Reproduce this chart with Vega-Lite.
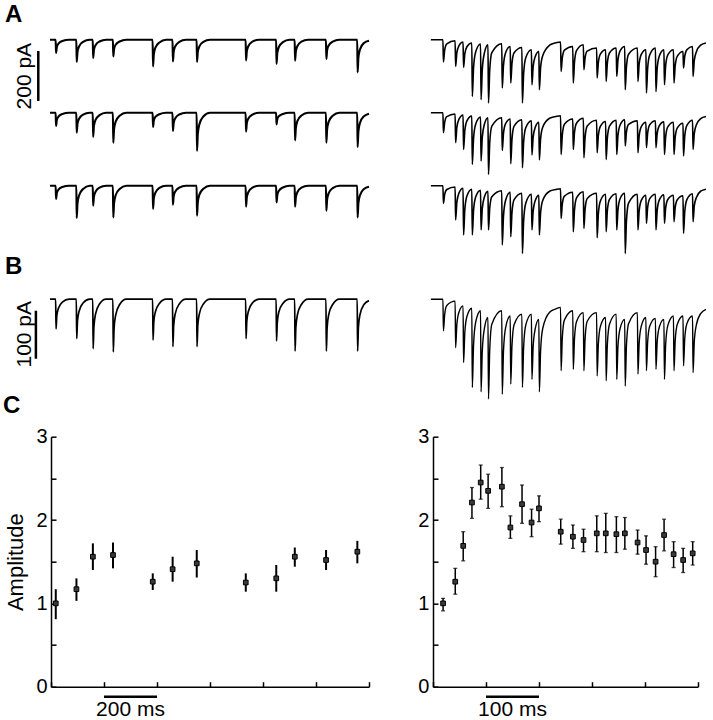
{
"$schema": "https://vega.github.io/schema/vega-lite/v6.json",
"background": "white",
"padding": {"left": 3, "top": 2.7, "right": 0, "bottom": 0},
"datasets": {
"a1l": [{"t":-4,"i":0},{"t":17.5,"i":0},{"t":19,"i":-53},{"t":22,"i":-29},{"t":28,"i":-16},{"t":43,"i":-5},{"t":68,"i":0},
{"t":95.5,"i":0},{"t":97,"i":-89},{"t":100,"i":-49},{"t":106,"i":-27},{"t":121,"i":-9},{"t":146,"i":0},
{"t":157.5,"i":0},{"t":159,"i":-73},{"t":162,"i":-40},{"t":168,"i":-22},{"t":183,"i":-7},{"t":208,"i":0},
{"t":233.5,"i":0},{"t":235,"i":-67},{"t":238,"i":-37},{"t":244,"i":-20},{"t":259,"i":-7},{"t":284,"i":0},
{"t":383.5,"i":0},{"t":385,"i":-107},{"t":388,"i":-59},{"t":394,"i":-32},{"t":409,"i":-11},{"t":434,"i":0},
{"t":458.5,"i":0},{"t":460,"i":-87},{"t":463,"i":-48},{"t":469,"i":-26},{"t":484,"i":-9},{"t":509,"i":0},
{"t":549.5,"i":0},{"t":551,"i":-89},{"t":554,"i":-49},{"t":560,"i":-27},{"t":575,"i":-9},{"t":600,"i":0},
{"t":734.5,"i":0},{"t":736,"i":-83},{"t":739,"i":-46},{"t":745,"i":-25},{"t":760,"i":-8},{"t":785,"i":0},
{"t":849.5,"i":0},{"t":851,"i":-97},{"t":854,"i":-53},{"t":860,"i":-29},{"t":875,"i":-10},{"t":900,"i":0},
{"t":919.5,"i":0},{"t":921,"i":-84},{"t":924,"i":-46},{"t":930,"i":-25},{"t":945,"i":-8},{"t":970,"i":0},
{"t":1037.5,"i":0},{"t":1039,"i":-77},{"t":1042,"i":-42},{"t":1048,"i":-23},{"t":1063,"i":-8},{"t":1088,"i":0},
{"t":1155.5,"i":0},{"t":1157,"i":-131},{"t":1160,"i":-72},{"t":1166,"i":-39},{"t":1181,"i":-13},{"t":1200,"i":-4}],
"a2l": [{"t":-4,"i":0},{"t":17.5,"i":0},{"t":19,"i":-53},{"t":22,"i":-29},{"t":28,"i":-16},{"t":43,"i":-5},{"t":68,"i":0},
{"t":95.5,"i":0},{"t":97,"i":-80},{"t":100,"i":-44},{"t":106,"i":-24},{"t":121,"i":-8},{"t":146,"i":0},
{"t":157.5,"i":0},{"t":159,"i":-97},{"t":162,"i":-53},{"t":168,"i":-29},{"t":183,"i":-10},{"t":208,"i":0},
{"t":233.5,"i":0},{"t":235,"i":-120},{"t":238,"i":-66},{"t":244,"i":-36},{"t":259,"i":-12},{"t":284,"i":0},
{"t":383.5,"i":0},{"t":385,"i":-57},{"t":388,"i":-31},{"t":394,"i":-17},{"t":409,"i":-6},{"t":434,"i":0},
{"t":458.5,"i":0},{"t":460,"i":-73},{"t":463,"i":-40},{"t":469,"i":-22},{"t":484,"i":-7},{"t":509,"i":0},
{"t":549.5,"i":0},{"t":551,"i":-153},{"t":554,"i":-84},{"t":560,"i":-46},{"t":575,"i":-15},{"t":600,"i":0},
{"t":734.5,"i":0},{"t":736,"i":-76},{"t":739,"i":-42},{"t":745,"i":-23},{"t":760,"i":-8},{"t":785,"i":0},
{"t":849.5,"i":0},{"t":851,"i":-47},{"t":854,"i":-26},{"t":860,"i":-14},{"t":875,"i":-5},{"t":900,"i":0},
{"t":919.5,"i":0},{"t":921,"i":-111},{"t":924,"i":-61},{"t":930,"i":-33},{"t":945,"i":-11},{"t":970,"i":0},
{"t":1037.5,"i":0},{"t":1039,"i":-120},{"t":1042,"i":-66},{"t":1048,"i":-36},{"t":1063,"i":-12},{"t":1088,"i":0},
{"t":1155.5,"i":0},{"t":1157,"i":-137},{"t":1160,"i":-75},{"t":1166,"i":-41},{"t":1181,"i":-14},{"t":1200,"i":-4}],
"a3l": [{"t":-4,"i":0},{"t":17.5,"i":0},{"t":19,"i":-53},{"t":22,"i":-29},{"t":28,"i":-16},{"t":43,"i":-5},{"t":68,"i":0},
{"t":95.5,"i":0},{"t":97,"i":-129},{"t":100,"i":-71},{"t":106,"i":-39},{"t":121,"i":-13},{"t":146,"i":0},
{"t":157.5,"i":0},{"t":159,"i":-80},{"t":162,"i":-44},{"t":168,"i":-24},{"t":183,"i":-8},{"t":208,"i":0},
{"t":233.5,"i":0},{"t":235,"i":-127},{"t":238,"i":-70},{"t":244,"i":-38},{"t":259,"i":-13},{"t":284,"i":0},
{"t":383.5,"i":0},{"t":385,"i":-93},{"t":388,"i":-51},{"t":394,"i":-28},{"t":409,"i":-9},{"t":434,"i":0},
{"t":458.5,"i":0},{"t":460,"i":-76},{"t":463,"i":-42},{"t":469,"i":-23},{"t":484,"i":-8},{"t":509,"i":0},
{"t":549.5,"i":0},{"t":551,"i":-120},{"t":554,"i":-66},{"t":560,"i":-36},{"t":575,"i":-12},{"t":600,"i":0},
{"t":734.5,"i":0},{"t":736,"i":-84},{"t":739,"i":-46},{"t":745,"i":-25},{"t":760,"i":-8},{"t":785,"i":0},
{"t":849.5,"i":0},{"t":851,"i":-67},{"t":854,"i":-37},{"t":860,"i":-20},{"t":875,"i":-7},{"t":900,"i":0},
{"t":919.5,"i":0},{"t":921,"i":-84},{"t":924,"i":-46},{"t":930,"i":-25},{"t":945,"i":-8},{"t":970,"i":0},
{"t":1037.5,"i":0},{"t":1039,"i":-100},{"t":1042,"i":-55},{"t":1048,"i":-30},{"t":1063,"i":-10},{"t":1088,"i":0},
{"t":1155.5,"i":0},{"t":1157,"i":-127},{"t":1160,"i":-70},{"t":1166,"i":-38},{"t":1181,"i":-13},{"t":1200,"i":-4}],
"bl": [{"t":-4,"i":0},{"t":17.5,"i":0},{"t":19,"i":-62},{"t":22,"i":-34},{"t":28,"i":-19},{"t":43,"i":-6},{"t":68,"i":0},
{"t":95.5,"i":0},{"t":97,"i":-82},{"t":100,"i":-45},{"t":106,"i":-25},{"t":121,"i":-8},{"t":146,"i":0},
{"t":157.5,"i":0},{"t":159,"i":-103},{"t":162,"i":-57},{"t":168,"i":-31},{"t":183,"i":-10},{"t":208,"i":0},
{"t":233.5,"i":0},{"t":235,"i":-110},{"t":238,"i":-61},{"t":244,"i":-33},{"t":259,"i":-11},{"t":284,"i":0},
{"t":383.5,"i":0},{"t":385,"i":-85},{"t":388,"i":-47},{"t":394,"i":-26},{"t":409,"i":-9},{"t":434,"i":0},
{"t":458.5,"i":0},{"t":460,"i":-99},{"t":463,"i":-54},{"t":469,"i":-30},{"t":484,"i":-10},{"t":509,"i":0},
{"t":549.5,"i":0},{"t":551,"i":-99},{"t":554,"i":-54},{"t":560,"i":-30},{"t":575,"i":-10},{"t":600,"i":0},
{"t":734.5,"i":0},{"t":736,"i":-82},{"t":739,"i":-45},{"t":745,"i":-25},{"t":760,"i":-8},{"t":785,"i":0},
{"t":849.5,"i":0},{"t":851,"i":-87},{"t":854,"i":-48},{"t":860,"i":-26},{"t":875,"i":-9},{"t":900,"i":0},
{"t":919.5,"i":0},{"t":921,"i":-108},{"t":924,"i":-59},{"t":930,"i":-32},{"t":945,"i":-11},{"t":970,"i":0},
{"t":1037.5,"i":0},{"t":1039,"i":-108},{"t":1042,"i":-59},{"t":1048,"i":-32},{"t":1063,"i":-11},{"t":1088,"i":0},
{"t":1155.5,"i":0},{"t":1157,"i":-108},{"t":1160,"i":-59},{"t":1166,"i":-32},{"t":1181,"i":-11},{"t":1200,"i":-3}],
"a1r": [{"t":-4,"i":0},
{"t":18.7,"i":0},{"t":19.7,"i":-89},{"t":22,"i":-42},{"t":26,"i":-17},
{"t":41.7,"i":-4},{"t":42.7,"i":-107},{"t":45,"i":-53},{"t":49,"i":-24},
{"t":56.7,"i":-9},{"t":57.7,"i":-111},{"t":60,"i":-57},{"t":64,"i":-28},
{"t":73.2,"i":-13},{"t":74.2,"i":-227},{"t":76.5,"i":-112},{"t":80.5,"i":-49},
{"t":89.7,"i":-17},{"t":90.7,"i":-240},{"t":93,"i":-119},{"t":97,"i":-53},
{"t":103.7,"i":-20},{"t":104.7,"i":-253},{"t":107,"i":-123},{"t":111,"i":-52},
{"t":129.7,"i":-16},{"t":130.7,"i":-193},{"t":133,"i":-102},{"t":137,"i":-52},
{"t":145.7,"i":-27},{"t":146.7,"i":-173},{"t":149,"i":-95},{"t":153,"i":-52},
{"t":167.7,"i":-31},{"t":168.7,"i":-253},{"t":171,"i":-136},{"t":175,"i":-72},
{"t":185.7,"i":-40},{"t":186.7,"i":-180},{"t":189,"i":-107},{"t":193,"i":-67},
{"t":199.7,"i":-47},{"t":200.7,"i":-200},{"t":203,"i":-112},{"t":207,"i":-64},{"t":220,"i":-22},{"t":232,"i":-12},
{"t":240.7,"i":-9},{"t":241.7,"i":-127},{"t":244,"i":-72},{"t":248,"i":-42},
{"t":263.7,"i":-27},{"t":264.7,"i":-173},{"t":267,"i":-89},{"t":271,"i":-43},
{"t":283.7,"i":-20},{"t":284.7,"i":-120},{"t":287,"i":-72},{"t":291,"i":-46},
{"t":308.7,"i":-33},{"t":309.7,"i":-153},{"t":312,"i":-91},{"t":316,"i":-57},
{"t":325.7,"i":-40},{"t":326.7,"i":-167},{"t":329,"i":-93},{"t":333,"i":-53},
{"t":345.7,"i":-33},{"t":346.7,"i":-147},{"t":349,"i":-81},{"t":353,"i":-45},
{"t":361.7,"i":-27},{"t":362.7,"i":-200},{"t":365,"i":-108},{"t":369,"i":-58},
{"t":385.7,"i":-33},{"t":386.7,"i":-167},{"t":389,"i":-97},{"t":393,"i":-59},
{"t":401.7,"i":-40},{"t":402.7,"i":-213},{"t":405,"i":-114},{"t":409,"i":-60},
{"t":419.7,"i":-33},{"t":420.7,"i":-207},{"t":423,"i":-115},{"t":427,"i":-65},
{"t":435.7,"i":-40},{"t":436.7,"i":-180},{"t":439,"i":-103},{"t":443,"i":-61},
{"t":453.7,"i":-40},{"t":454.7,"i":-173},{"t":457,"i":-104},{"t":461,"i":-66},
{"t":471.7,"i":-47},{"t":472.7,"i":-113},{"t":475,"i":-66},{"t":479,"i":-40},
{"t":489.7,"i":-27},{"t":490.7,"i":-147},{"t":493,"i":-83},{"t":497,"i":-48},{"t":505,"i":-22},{"t":515,"i":-13}],
"a2r": [{"t":-4,"i":0},
{"t":18.7,"i":0},{"t":19.7,"i":-80},{"t":22,"i":-39},{"t":26,"i":-16},
{"t":41.7,"i":-5},{"t":42.7,"i":-120},{"t":45,"i":-59},{"t":49,"i":-26},
{"t":56.7,"i":-9},{"t":57.7,"i":-147},{"t":60,"i":-73},{"t":64,"i":-33},
{"t":73.2,"i":-13},{"t":74.2,"i":-207},{"t":76.5,"i":-103},{"t":80.5,"i":-46},
{"t":89.7,"i":-17},{"t":90.7,"i":-193},{"t":93,"i":-98},{"t":97,"i":-46},
{"t":103.7,"i":-20},{"t":104.7,"i":-247},{"t":107,"i":-122},{"t":111,"i":-54},
{"t":129.7,"i":-20},{"t":130.7,"i":-151},{"t":133,"i":-82},{"t":137,"i":-44},
{"t":145.7,"i":-25},{"t":146.7,"i":-204},{"t":149,"i":-107},{"t":153,"i":-54},
{"t":167.7,"i":-28},{"t":168.7,"i":-220},{"t":171,"i":-117},{"t":175,"i":-60},
{"t":185.7,"i":-32},{"t":186.7,"i":-169},{"t":189,"i":-97},{"t":193,"i":-58},
{"t":199.7,"i":-38},{"t":200.7,"i":-189},{"t":203,"i":-104},{"t":207,"i":-58},{"t":220,"i":-22},{"t":232,"i":-15},
{"t":240.7,"i":-12},{"t":241.7,"i":-167},{"t":244,"i":-89},{"t":248,"i":-46},
{"t":263.7,"i":-25},{"t":264.7,"i":-147},{"t":267,"i":-78},{"t":271,"i":-41},
{"t":283.7,"i":-22},{"t":284.7,"i":-180},{"t":287,"i":-98},{"t":291,"i":-53},
{"t":308.7,"i":-30},{"t":309.7,"i":-160},{"t":312,"i":-91},{"t":316,"i":-54},
{"t":325.7,"i":-35},{"t":326.7,"i":-187},{"t":329,"i":-101},{"t":333,"i":-54},
{"t":345.7,"i":-30},{"t":346.7,"i":-167},{"t":349,"i":-91},{"t":353,"i":-49},
{"t":361.7,"i":-28},{"t":362.7,"i":-133},{"t":365,"i":-77},{"t":369,"i":-47},
{"t":385.7,"i":-32},{"t":386.7,"i":-160},{"t":389,"i":-93},{"t":393,"i":-56},
{"t":401.7,"i":-38},{"t":402.7,"i":-140},{"t":405,"i":-81},{"t":409,"i":-48},
{"t":419.7,"i":-32},{"t":420.7,"i":-140},{"t":423,"i":-83},{"t":427,"i":-52},
{"t":435.7,"i":-36},{"t":436.7,"i":-167},{"t":439,"i":-96},{"t":443,"i":-57},
{"t":453.7,"i":-38},{"t":454.7,"i":-167},{"t":457,"i":-98},{"t":461,"i":-61},
{"t":471.7,"i":-42},{"t":472.7,"i":-173},{"t":475,"i":-94},{"t":479,"i":-51},
{"t":489.7,"i":-30},{"t":490.7,"i":-147},{"t":493,"i":-83},{"t":497,"i":-48},{"t":505,"i":-24},{"t":515,"i":-15}],
"a3r": [{"t":-4,"i":0},
{"t":18.7,"i":0},{"t":19.7,"i":-71},{"t":22,"i":-35},{"t":26,"i":-15},
{"t":41.7,"i":-5},{"t":42.7,"i":-137},{"t":45,"i":-67},{"t":49,"i":-29},
{"t":56.7,"i":-10},{"t":57.7,"i":-197},{"t":60,"i":-96},{"t":64,"i":-41},
{"t":73.2,"i":-14},{"t":74.2,"i":-197},{"t":76.5,"i":-99},{"t":80.5,"i":-45},
{"t":89.7,"i":-18},{"t":90.7,"i":-177},{"t":93,"i":-92},{"t":97,"i":-45},
{"t":103.7,"i":-22},{"t":104.7,"i":-177},{"t":107,"i":-91},{"t":111,"i":-44},
{"t":129.7,"i":-20},{"t":130.7,"i":-237},{"t":133,"i":-121},{"t":137,"i":-58},
{"t":145.7,"i":-26},{"t":146.7,"i":-204},{"t":149,"i":-108},{"t":153,"i":-56},
{"t":167.7,"i":-30},{"t":168.7,"i":-271},{"t":171,"i":-141},{"t":175,"i":-70},
{"t":185.7,"i":-34},{"t":186.7,"i":-177},{"t":189,"i":-101},{"t":193,"i":-59},
{"t":199.7,"i":-38},{"t":200.7,"i":-197},{"t":203,"i":-108},{"t":207,"i":-59},{"t":220,"i":-22},{"t":232,"i":-15},
{"t":240.7,"i":-12},{"t":241.7,"i":-131},{"t":244,"i":-73},{"t":248,"i":-42},
{"t":263.7,"i":-26},{"t":264.7,"i":-184},{"t":267,"i":-96},{"t":271,"i":-48},
{"t":283.7,"i":-24},{"t":284.7,"i":-171},{"t":287,"i":-93},{"t":291,"i":-51},
{"t":308.7,"i":-30},{"t":309.7,"i":-208},{"t":312,"i":-112},{"t":316,"i":-60},
{"t":325.7,"i":-34},{"t":326.7,"i":-184},{"t":329,"i":-100},{"t":333,"i":-55},
{"t":345.7,"i":-32},{"t":346.7,"i":-177},{"t":349,"i":-96},{"t":353,"i":-52},
{"t":361.7,"i":-30},{"t":362.7,"i":-271},{"t":365,"i":-141},{"t":369,"i":-70},
{"t":385.7,"i":-34},{"t":386.7,"i":-177},{"t":389,"i":-101},{"t":393,"i":-59},
{"t":401.7,"i":-38},{"t":402.7,"i":-151},{"t":405,"i":-87},{"t":409,"i":-52},
{"t":419.7,"i":-34},{"t":420.7,"i":-177},{"t":423,"i":-99},{"t":427,"i":-57},
{"t":435.7,"i":-36},{"t":436.7,"i":-151},{"t":439,"i":-89},{"t":443,"i":-55},
{"t":453.7,"i":-38},{"t":454.7,"i":-144},{"t":457,"i":-87},{"t":461,"i":-56},
{"t":471.7,"i":-40},{"t":472.7,"i":-191},{"t":475,"i":-104},{"t":479,"i":-56},
{"t":489.7,"i":-32},{"t":490.7,"i":-144},{"t":493,"i":-81},{"t":497,"i":-47},{"t":505,"i":-22},{"t":515,"i":-14}],
"br": [{"t":-4,"i":0},
{"t":18.7,"i":0},{"t":19.7,"i":-66},{"t":22,"i":-32},{"t":26,"i":-13},
{"t":41.7,"i":-4},{"t":42.7,"i":-101},{"t":45,"i":-53},{"t":49,"i":-27},
{"t":56.7,"i":-14},{"t":57.7,"i":-132},{"t":60,"i":-70},{"t":64,"i":-36},
{"t":73.2,"i":-19},{"t":74.2,"i":-184},{"t":76.5,"i":-96},{"t":80.5,"i":-48},
{"t":89.7,"i":-24},{"t":90.7,"i":-193},{"t":93,"i":-108},{"t":97,"i":-61},
{"t":103.7,"i":-38},{"t":104.7,"i":-208},{"t":107,"i":-107},{"t":111,"i":-52},
{"t":129.7,"i":-24},{"t":130.7,"i":-198},{"t":133,"i":-108},{"t":137,"i":-59},
{"t":145.7,"i":-35},{"t":146.7,"i":-177},{"t":149,"i":-97},{"t":153,"i":-53},
{"t":167.7,"i":-31},{"t":168.7,"i":-184},{"t":171,"i":-100},{"t":175,"i":-54},
{"t":185.7,"i":-31},{"t":186.7,"i":-167},{"t":189,"i":-98},{"t":193,"i":-61},
{"t":199.7,"i":-42},{"t":200.7,"i":-193},{"t":203,"i":-108},{"t":207,"i":-61},{"t":220,"i":-27},{"t":232,"i":-20},
{"t":240.7,"i":-17},{"t":241.7,"i":-149},{"t":244,"i":-80},{"t":248,"i":-43},
{"t":263.7,"i":-24},{"t":264.7,"i":-146},{"t":267,"i":-81},{"t":271,"i":-46},
{"t":283.7,"i":-28},{"t":284.7,"i":-149},{"t":287,"i":-82},{"t":291,"i":-46},
{"t":308.7,"i":-28},{"t":309.7,"i":-160},{"t":312,"i":-93},{"t":316,"i":-56},
{"t":325.7,"i":-38},{"t":326.7,"i":-170},{"t":329,"i":-94},{"t":333,"i":-52},
{"t":345.7,"i":-31},{"t":346.7,"i":-167},{"t":349,"i":-98},{"t":353,"i":-61},
{"t":361.7,"i":-42},{"t":362.7,"i":-181},{"t":365,"i":-97},{"t":369,"i":-51},
{"t":385.7,"i":-28},{"t":386.7,"i":-156},{"t":389,"i":-91},{"t":393,"i":-56},
{"t":401.7,"i":-38},{"t":402.7,"i":-149},{"t":405,"i":-89},{"t":409,"i":-56},
{"t":419.7,"i":-40},{"t":420.7,"i":-146},{"t":423,"i":-89},{"t":427,"i":-58},
{"t":435.7,"i":-42},{"t":436.7,"i":-167},{"t":439,"i":-94},{"t":443,"i":-55},
{"t":453.7,"i":-35},{"t":454.7,"i":-149},{"t":457,"i":-86},{"t":461,"i":-52},
{"t":471.7,"i":-35},{"t":472.7,"i":-139},{"t":475,"i":-82},{"t":479,"i":-51},
{"t":489.7,"i":-35},{"t":490.7,"i":-153},{"t":493,"i":-88},{"t":497,"i":-53},{"t":505,"i":-30},{"t":515,"i":-21}],
"cl": [{"t":18,"a":1.0,"lo":0.81,"hi":1.17},{"t":96,"a":1.17,"lo":1.03,"hi":1.3},{"t":158,"a":1.56,"lo":1.4,"hi":1.72},{"t":234,"a":1.58,"lo":1.42,"hi":1.73},{"t":384,"a":1.26,"lo":1.16,"hi":1.36},{"t":459,"a":1.41,"lo":1.26,"hi":1.56},{"t":550,"a":1.48,"lo":1.31,"hi":1.64},{"t":735,"a":1.25,"lo":1.14,"hi":1.36},{"t":850,"a":1.3,"lo":1.14,"hi":1.46},{"t":920,"a":1.56,"lo":1.44,"hi":1.67},{"t":1038,"a":1.52,"lo":1.4,"hi":1.64},{"t":1156,"a":1.62,"lo":1.48,"hi":1.75}],
"cr": [{"t":19,"a":1.0,"lo":0.91,"hi":1.06},{"t":42,"a":1.26,"lo":1.11,"hi":1.42},{"t":57,"a":1.69,"lo":1.51,"hi":1.86},{"t":73.5,"a":2.21,"lo":2.02,"hi":2.39},{"t":90,"a":2.45,"lo":2.25,"hi":2.66},{"t":104,"a":2.35,"lo":2.14,"hi":2.55},{"t":130,"a":2.4,"lo":2.16,"hi":2.63},{"t":146,"a":1.91,"lo":1.78,"hi":2.05},{"t":168,"a":2.19,"lo":1.96,"hi":2.42},{"t":186,"a":1.97,"lo":1.8,"hi":2.13},{"t":200,"a":2.14,"lo":1.98,"hi":2.29},{"t":241,"a":1.86,"lo":1.71,"hi":2.01},{"t":264,"a":1.8,"lo":1.66,"hi":1.94},{"t":284,"a":1.76,"lo":1.62,"hi":1.89},{"t":309,"a":1.84,"lo":1.62,"hi":2.05},{"t":326,"a":1.84,"lo":1.61,"hi":2.08},{"t":346,"a":1.83,"lo":1.61,"hi":2.04},{"t":362,"a":1.84,"lo":1.65,"hi":2.03},{"t":386,"a":1.73,"lo":1.59,"hi":1.88},{"t":402,"a":1.64,"lo":1.47,"hi":1.81},{"t":420,"a":1.5,"lo":1.32,"hi":1.68},{"t":436,"a":1.82,"lo":1.63,"hi":2.01},{"t":454,"a":1.59,"lo":1.43,"hi":1.74},{"t":472,"a":1.52,"lo":1.37,"hi":1.66},{"t":490,"a":1.6,"lo":1.46,"hi":1.74}]
},
"columns": 2,
"spacing": {"row": 1, "column": 64},
"bounds": "flush",
"concat": [
  {"width": 318, "height": 72,
   "layer": [
    {"data": {"name": "a1l"}, "mark": {"type": "line", "interpolate": "monotone", "color": "black", "strokeWidth": 2.1, "clip": false},
     "encoding": {"x": {"field": "t", "type": "quantitative", "scale": {"domain": [0, 1200], "nice": false}, "axis": null},
                  "y": {"field": "i", "type": "quantitative", "scale": {"domain": [-268, 20], "nice": false}, "axis": null}}},
    {"data": {"values": [{}]}, "mark": {"type": "rule", "color": "black", "strokeWidth": 2.5},
     "encoding": {"x": {"datum": -48}, "y": {"datum": -45}, "y2": {"datum": -245}}},
    {"data": {"values": [{}]}, "mark": {"type": "text", "angle": 270, "fontSize": 21, "align": "center", "baseline": "middle", "color": "black"},
     "encoding": {"x": {"datum": -98}, "y": {"datum": -146}, "text": {"value": "200 pA"}}},
    {"data": {"values": [{}]}, "mark": {"type": "text", "fontSize": 24, "fontWeight": "bold", "align": "left", "baseline": "alphabetic", "color": "black"},
     "encoding": {"x": {"datum": -173.6}, "y": {"datum": 71.2}, "text": {"value": "A"}}}
   ]},
  {"width": 265, "height": 72, "data": {"name": "a1r"},
   "mark": {"type": "line", "interpolate": "monotone", "color": "black", "strokeWidth": 1.6, "clip": false},
   "encoding": {"x": {"field": "t", "type": "quantitative", "scale": {"domain": [0, 500], "nice": false}, "axis": null},
                "y": {"field": "i", "type": "quantitative", "scale": {"domain": [-268, 20], "nice": false}, "axis": null}}},
  {"width": 318, "height": 72, "data": {"name": "a2l"},
   "mark": {"type": "line", "interpolate": "monotone", "color": "black", "strokeWidth": 2.1, "clip": false},
   "encoding": {"x": {"field": "t", "type": "quantitative", "scale": {"domain": [0, 1200], "nice": false}, "axis": null},
                "y": {"field": "i", "type": "quantitative", "scale": {"domain": [-268, 20], "nice": false}, "axis": null}}},
  {"width": 265, "height": 72, "data": {"name": "a2r"},
   "mark": {"type": "line", "interpolate": "monotone", "color": "black", "strokeWidth": 1.6, "clip": false},
   "encoding": {"x": {"field": "t", "type": "quantitative", "scale": {"domain": [0, 500], "nice": false}, "axis": null},
                "y": {"field": "i", "type": "quantitative", "scale": {"domain": [-268, 20], "nice": false}, "axis": null}}},
  {"width": 318, "height": 72, "data": {"name": "a3l"},
   "mark": {"type": "line", "interpolate": "monotone", "color": "black", "strokeWidth": 2.1, "clip": false},
   "encoding": {"x": {"field": "t", "type": "quantitative", "scale": {"domain": [0, 1200], "nice": false}, "axis": null},
                "y": {"field": "i", "type": "quantitative", "scale": {"domain": [-268, 20], "nice": false}, "axis": null}}},
  {"width": 265, "height": 72, "data": {"name": "a3r"},
   "mark": {"type": "line", "interpolate": "monotone", "color": "black", "strokeWidth": 1.6, "clip": false},
   "encoding": {"x": {"field": "t", "type": "quantitative", "scale": {"domain": [0, 500], "nice": false}, "axis": null},
                "y": {"field": "i", "type": "quantitative", "scale": {"domain": [-268, 20], "nice": false}, "axis": null}}},
  {"width": 318, "height": 181.5,
   "layer": [
    {"data": {"name": "bl"}, "mark": {"type": "line", "interpolate": "monotone", "color": "black", "strokeWidth": 1.7, "clip": false},
     "encoding": {"x": {"field": "t", "type": "quantitative", "scale": {"domain": [0, 1200], "nice": false}, "axis": null},
                  "y": {"field": "i", "type": "quantitative", "scale": {"domain": [-283.3, 94.8], "nice": false}, "axis": null}}},
    {"data": {"values": [{}]}, "mark": {"type": "rule", "color": "black", "strokeWidth": 2.5},
     "encoding": {"x": {"datum": -57}, "y": {"datum": -24}, "y2": {"datum": -124}}},
    {"data": {"values": [{}]}, "mark": {"type": "text", "angle": 270, "fontSize": 21, "align": "center", "baseline": "middle", "color": "black"},
     "encoding": {"x": {"datum": -98}, "y": {"datum": -73}, "text": {"value": "100 pA"}}},
    {"data": {"values": [{}]}, "mark": {"type": "text", "fontSize": 24, "fontWeight": "bold", "align": "left", "baseline": "alphabetic", "color": "black"},
     "encoding": {"x": {"datum": -173.6}, "y": {"datum": 52}, "text": {"value": "B"}}}
   ]},
  {"width": 265, "height": 181.5, "data": {"name": "br"},
   "mark": {"type": "line", "interpolate": "monotone", "color": "black", "strokeWidth": 1.4, "clip": false},
   "encoding": {"x": {"field": "t", "type": "quantitative", "scale": {"domain": [0, 500], "nice": false}, "axis": null},
                "y": {"field": "i", "type": "quantitative", "scale": {"domain": [-283.3, 94.8], "nice": false}, "axis": null}}},
  {"width": 318, "height": 250, "data": {"name": "cl"},
   "layer": [
    {"mark": {"type": "rule", "color": "black", "strokeWidth": 2},
     "encoding": {"x": {"field": "t", "type": "quantitative", "scale": {"domain": [0, 1200], "nice": false},
                        "axis": {"values": [0, 200, 400, 600, 800, 1000, 1200], "labels": false, "tickSize": -5, "title": null}},
                  "y": {"field": "lo", "type": "quantitative", "title": "Amplitude", "scale": {"domain": [0, 3], "nice": false},
                        "axis": {"values": [0, 0.5, 1, 1.5, 2, 2.5, 3], "tickSize": -5, "labelPadding": 9,
                                 "labelExpr": "datum.value % 1 === 0 ? '' + datum.value : ''"}},
                  "y2": {"field": "hi"}}},
    {"mark": {"type": "point", "shape": "square", "filled": true, "size": 22, "fill": "#3a3a3a", "stroke": "black", "strokeWidth": 1, "opacity": 1},
     "encoding": {"x": {"field": "t", "type": "quantitative"}, "y": {"field": "a", "type": "quantitative", "title": "Amplitude"}}},
    {"data": {"values": [{}]}, "mark": {"type": "rule", "color": "black", "strokeWidth": 2.5},
     "encoding": {"x": {"datum": 200}, "x2": {"datum": 400}, "y": {"datum": -0.12}}},
    {"data": {"values": [{}]}, "mark": {"type": "text", "fontSize": 21, "align": "center", "baseline": "alphabetic", "color": "black"},
     "encoding": {"x": {"datum": 300}, "y": {"datum": -0.355}, "text": {"value": "200 ms"}}},
    {"data": {"values": [{}]}, "mark": {"type": "text", "fontSize": 24, "fontWeight": "bold", "align": "left", "baseline": "alphabetic", "color": "black"},
     "encoding": {"x": {"datum": -181}, "y": {"datum": 3.28}, "text": {"value": "C"}}}
   ]},
  {"width": 265, "height": 250, "data": {"name": "cr"},
   "layer": [
    {"mark": {"type": "rule", "color": "black", "strokeWidth": 1.5},
     "encoding": {"x": {"field": "t", "type": "quantitative", "scale": {"domain": [0, 500], "nice": false},
                        "axis": {"values": [0, 100, 200, 300, 400, 500], "labels": false, "tickSize": -5, "title": null}},
                  "y": {"field": "lo", "type": "quantitative", "title": null, "scale": {"domain": [0, 3], "nice": false},
                        "axis": {"values": [0, 0.5, 1, 1.5, 2, 2.5, 3], "tickSize": -5, "labelPadding": 9,
                                 "labelExpr": "datum.value % 1 === 0 ? '' + datum.value : ''"}},
                  "y2": {"field": "hi"}}},
    {"mark": {"type": "tick", "orient": "horizontal", "size": 4, "thickness": 1.3, "color": "black"},
     "encoding": {"x": {"field": "t", "type": "quantitative"}, "y": {"field": "lo", "type": "quantitative", "title": null}}},
    {"mark": {"type": "tick", "orient": "horizontal", "size": 4, "thickness": 1.3, "color": "black"},
     "encoding": {"x": {"field": "t", "type": "quantitative"}, "y": {"field": "hi", "type": "quantitative", "title": null}}},
    {"mark": {"type": "point", "shape": "square", "filled": true, "size": 22, "fill": "#3a3a3a", "stroke": "black", "strokeWidth": 1, "opacity": 1},
     "encoding": {"x": {"field": "t", "type": "quantitative"}, "y": {"field": "a", "type": "quantitative", "title": null}}},
    {"data": {"values": [{}]}, "mark": {"type": "rule", "color": "black", "strokeWidth": 2.5},
     "encoding": {"x": {"datum": 100}, "x2": {"datum": 200}, "y": {"datum": -0.12}}},
    {"data": {"values": [{}]}, "mark": {"type": "text", "fontSize": 21, "align": "center", "baseline": "alphabetic", "color": "black"},
     "encoding": {"x": {"datum": 150}, "y": {"datum": -0.355}, "text": {"value": "100 ms"}}}
   ]}
],
"config": {
 "view": {"stroke": null},
 "font": "Liberation Sans",
 "axis": {"domainColor": "black", "domainWidth": 1.5, "tickColor": "black", "tickWidth": 1.5, "labelColor": "black", "labelFont": "Liberation Sans", "labelFontSize": 20, "titleFont": "Liberation Sans", "titleFontSize": 22, "titleFontWeight": "normal", "titleColor": "black", "grid": false, "titlePadding": 8}
}
}
